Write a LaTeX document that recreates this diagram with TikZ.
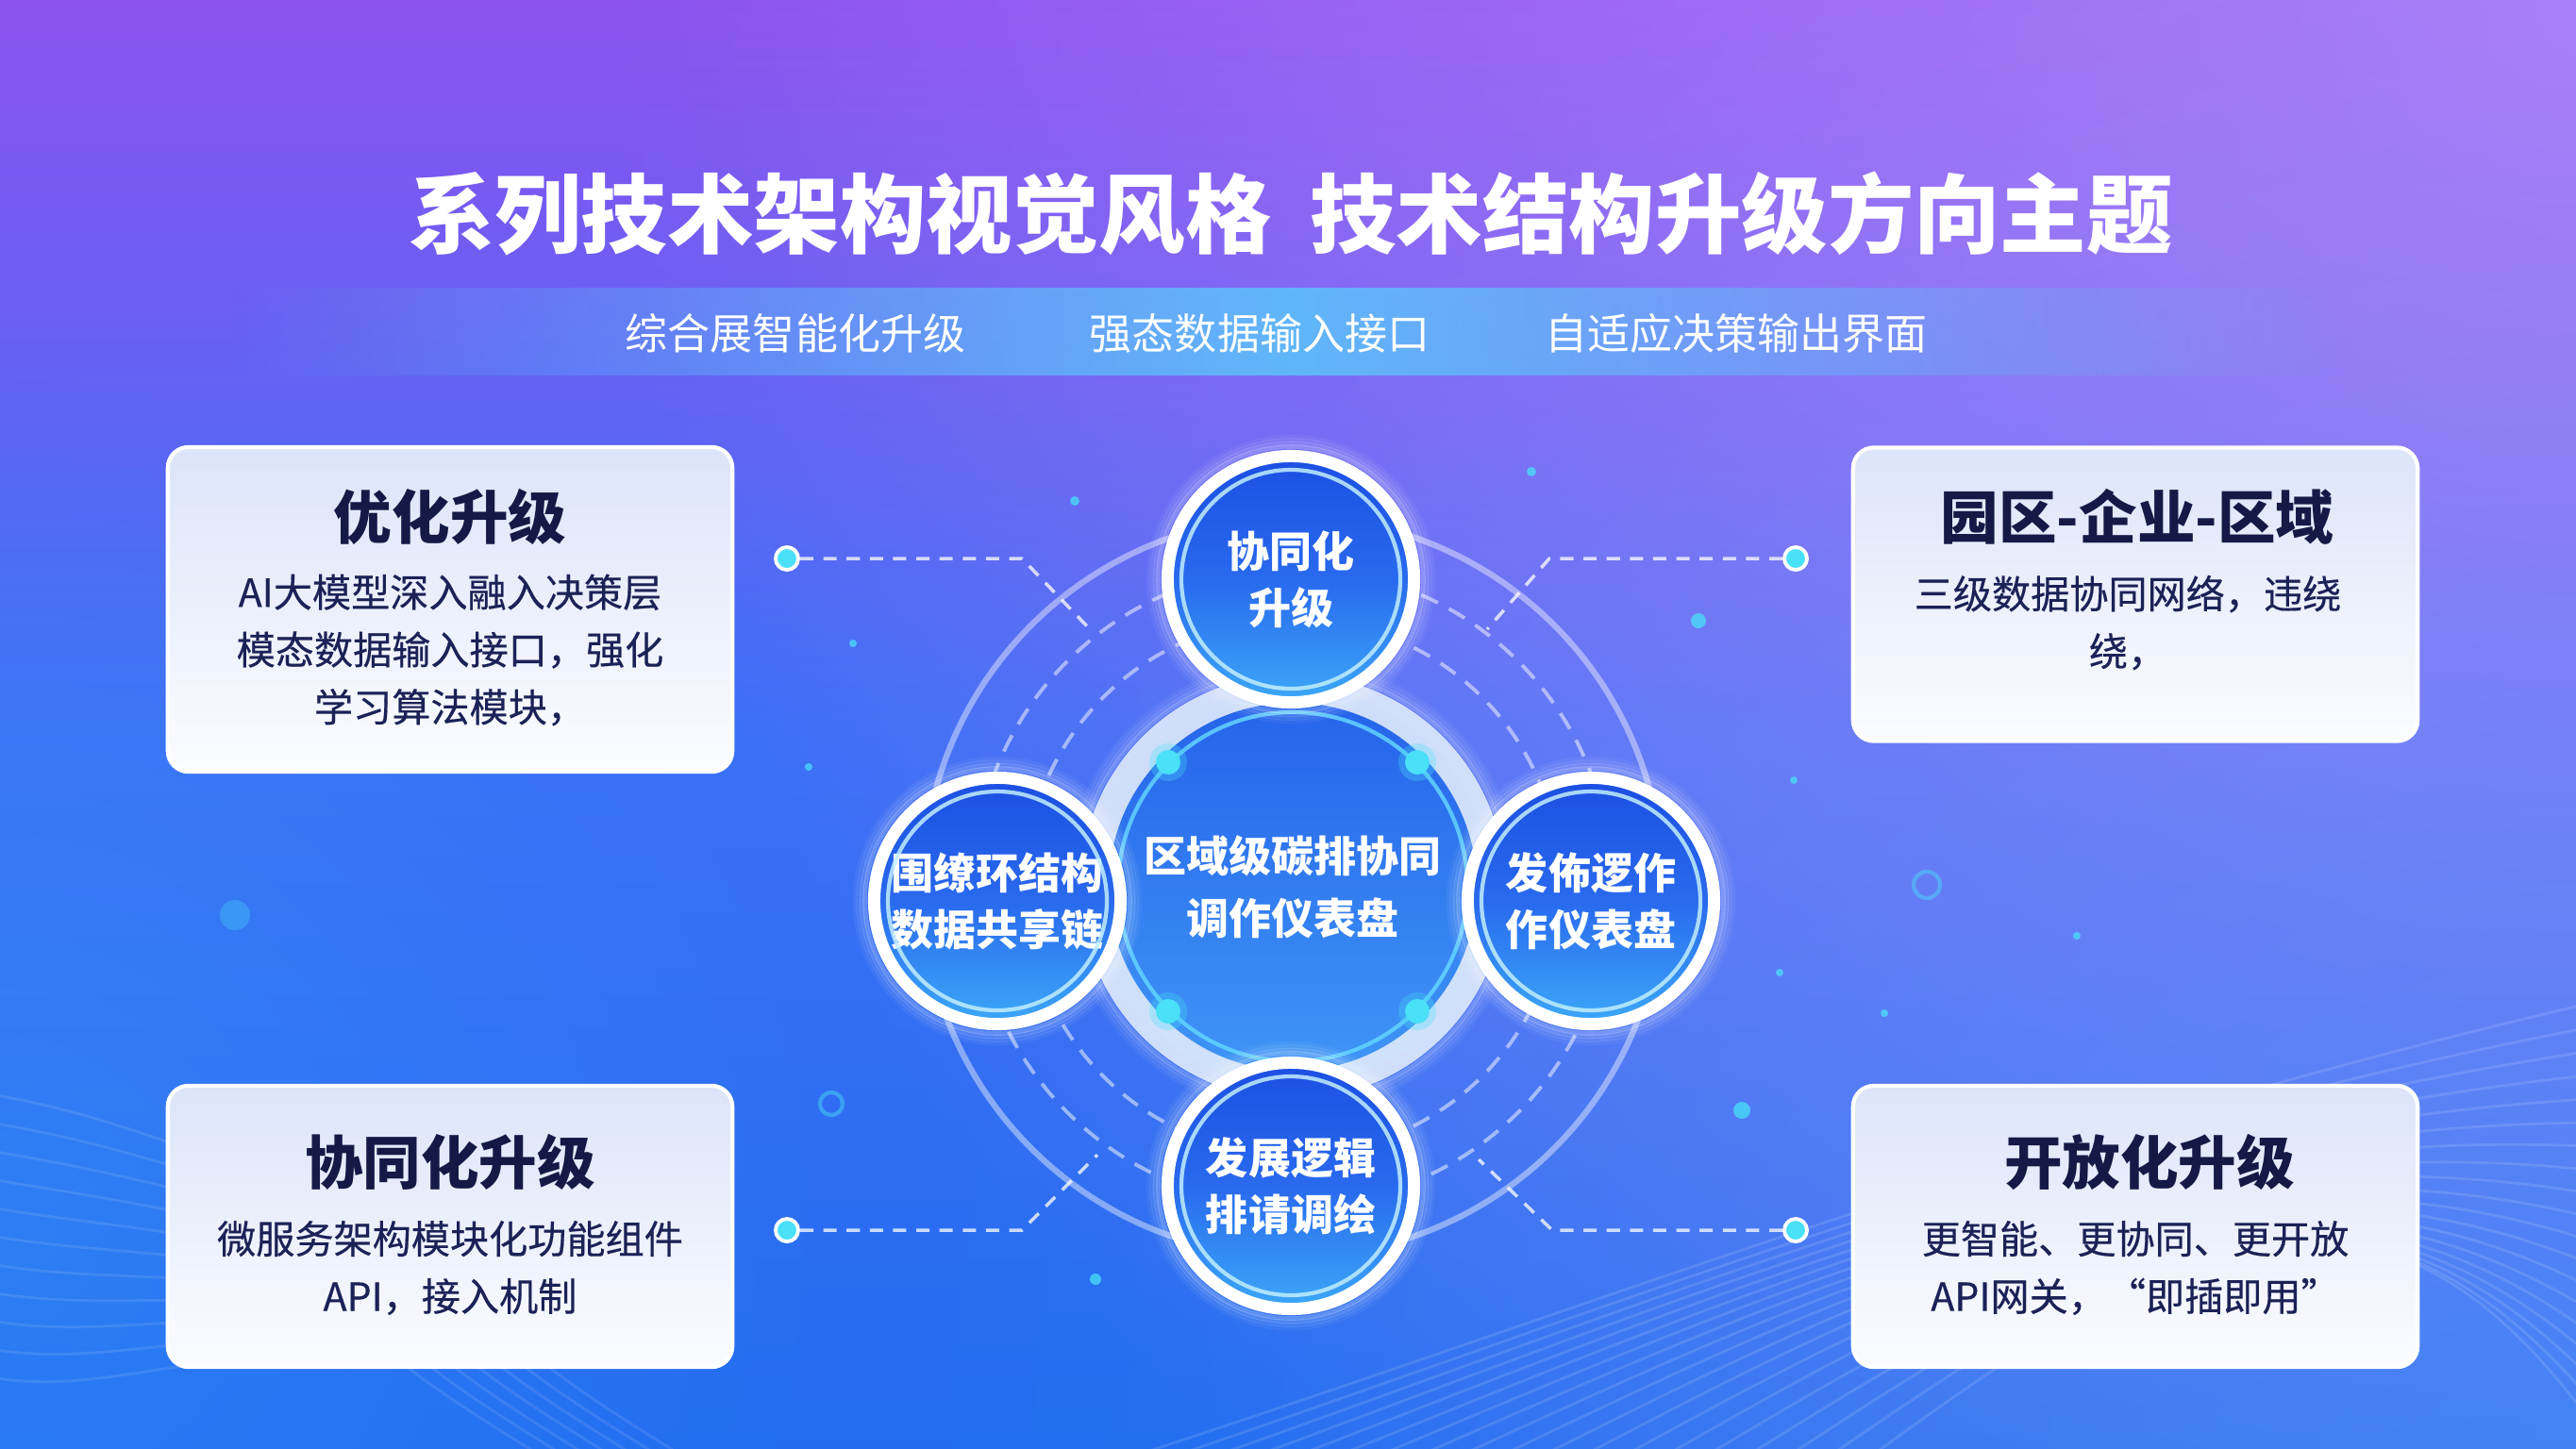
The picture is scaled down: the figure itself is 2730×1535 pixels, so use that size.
\documentclass[tikz,border=0pt]{standalone}
\usepackage{fontspec}
\setmainfont{Noto Sans CJK SC}
\usetikzlibrary{fadings}
\definecolor{bgTop}{HTML}{8C52F0}
\definecolor{bgMid}{HTML}{3C70F5}
\definecolor{bgBot}{HTML}{236CF0}
\definecolor{tintR}{HTML}{B07EF8}
\definecolor{tintBR}{HTML}{38A6FA}
\definecolor{bandC}{HTML}{5CC4FB}
\definecolor{boxTop}{HTML}{DCE4F9}
\definecolor{boxBot}{HTML}{FBFCFF}
\definecolor{navyT}{HTML}{141A45}
\definecolor{navyB}{HTML}{1A2256}
\definecolor{satTop}{HTML}{1B4FE2}
\definecolor{satMid}{HTML}{296AEE}
\definecolor{satBot}{HTML}{3CA8F8}
\definecolor{hubTop}{HTML}{2562EA}
\definecolor{hubBot}{HTML}{3F97F6}
\definecolor{ringW}{HTML}{DCE8FC}
\definecolor{cyanL}{HTML}{49E0F8}
\definecolor{cyanLine}{HTML}{63D4FF}
\tikzfading[name=radfade, inner color=transparent!0, outer color=transparent!100]
\tikzfading[name=sidefade, left color=transparent!100, right color=transparent!100, middle color=transparent!0]
\tikzset{
  bx/.style={rectangle, rounded corners=0.22cm, top color=boxTop, bottom color=boxBot, draw=white, line width=1.2pt, minimum width=5.98cm, inner sep=0pt},
  btitle/.style={text=navyT, font=\fontsize{17.5}{21}\selectfont\bfseries, inner sep=0pt},
  bbody/.style={text=navyB, align=center, font=\fontsize{11.7}{17.3}\selectfont\addfontfeature{FakeBold=0.4}, inner sep=0pt},
  sat/.style={circle, minimum size=2.61cm, draw=white, line width=0.13cm, top color=satTop, bottom color=satBot, middle color=satMid, text=white, align=center, font=\fontsize{12.8}{17}\selectfont\bfseries, inner sep=0pt},
  hubst/.style={circle, minimum size=4.2cm, draw=ringW, draw opacity=0.92, line width=0.3cm, top color=hubTop, bottom color=hubBot, text=white, align=center, font=\fontsize{12.8}{18.8}\selectfont\bfseries, inner sep=0pt},
  cdot/.style={circle, fill=cyanL, draw=white, line width=1.1pt, minimum size=0.24cm, inner sep=0pt},
  hdot/.style={circle, fill=cyanL, minimum size=0.26cm, inner sep=0pt},
  conn/.style={white, opacity=0.75, line width=1pt, dash pattern=on 4pt off 3pt},
  subt/.style={text=white, font=\fontsize{12.8}{15}\selectfont, inner sep=0pt},
  sparkle/.style={fill=cyanL, opacity=0.75},
}
\begin{document}
\begin{tikzpicture}[x=0.01cm,y=-0.01cm]
\useasboundingbox (0,0) rectangle (2730,1535);
\clip (0,0) rectangle (2730,1535);
% background
\shade[top color=bgTop, bottom color=bgBot, middle color=bgMid] (0,0) rectangle (2730,1535);
\fill[tintR, path fading=radfade] (2730,0) circle[radius=2100];
\fill[tintBR, path fading=radfade, opacity=0.35] (2730,1535) circle[radius=1800];
\fill[tintBR, path fading=radfade, opacity=0.3] (0,1300) circle[radius=900];
% waves bottom right
\foreach \i in {0,...,18}{
  \draw[white, opacity=0.12, line width=0.8pt] (1150+45*\i,1560) .. controls (1650+35*\i,1400-4*\i) and (2150+20*\i,1200-2*\i) .. (2760,1060+26*\i);
}
% waves bottom left
\foreach \i in {0,...,10}{
  \draw[white, opacity=0.10, line width=0.8pt] (-10,1160+30*\i) .. controls (80,1175+30*\i) and (150,1200+25*\i) .. (260,1240+20*\i);
}
\foreach \i in {0,...,6}{
  \draw[white, opacity=0.10, line width=0.8pt] (420+25*\i,1440) .. controls (470+25*\i,1480) and (520+25*\i,1510) .. (600+25*\i,1560);
}
% subtitle band
\fill[bandC, path fading=sidefade, opacity=0.85] (250,305) rectangle (2490,398);
% title & subtitles
\node[text=white, font=\fontsize{26}{30}\selectfont\bfseries, inner sep=0pt] (title) at (1368,226) {系列技术架构视觉风格\hspace{0.45em}技术结构升级方向主题};
\node[subt] (s1) at (843,353) {综合展智能化升级};
\node[subt] (s2) at (1335,353) {强态数据输入接口};
\node[subt] (s3) at (1840,353) {自适应决策输出界面};
% central coordinates
\coordinate (c) at (1370,940);
\coordinate (pT) at (1368,614);
\coordinate (pL) at (1057,955);
\coordinate (pR) at (1686,955);
\coordinate (pB) at (1368,1257);
% rings
\draw[white, opacity=0.42, line width=1.8pt] (c) circle[radius=392];
\draw[white, opacity=0.5, line width=1.1pt, dash pattern=on 5.5pt off 3.8pt] (c) circle[radius=338];
\draw[white, opacity=0.5, line width=1.1pt, dash pattern=on 5.5pt off 3.8pt] (c) circle[radius=284];
% connector dots and bends
\node[cdot] (dTL) at (834,592) {};
\node[cdot] (dTR) at (1903,592) {};
\node[cdot] (dBL) at (834,1304) {};
\node[cdot] (dBR) at (1903,1304) {};
\coordinate (bTL) at (1083,592);
\coordinate (eTL) at (1158,670);
\coordinate (bTR) at (1642,592);
\coordinate (eTR) at (1576,667);
\coordinate (bBL) at (1083,1304);
\coordinate (eBL) at (1163,1224);
\coordinate (bBR) at (1645,1304);
\coordinate (eBR) at (1567,1229);
\draw[conn] (dTL.east) -- (bTL) -- (eTL);
\draw[conn] (dTR.west) -- (bTR) -- (eTR);
\draw[conn] (dBL.east) -- (bBL) -- (eBL);
\draw[conn] (dBR.west) -- (bBR) -- (eBR);
% hub glow
\foreach \k/\o in {1/0.2, 2/0.13, 3/0.08, 4/0.05}{
  \draw[white, opacity=\o, line width=1.3pt] (c) circle[radius=225+3.5*\k];
}
\node[hubst] (hub) at (c) {区域级碳排协同\\调作仪表盘};
\draw[cyanLine, line width=1.2pt, opacity=0.85] (hub.center) circle[radius=185];
\foreach \n/\x/\y in {h1/1238/808, h2/1502/808, h3/1238/1072, h4/1502/1072}{
  \fill[cyanL, opacity=0.3] (\x,\y) circle[radius=20];
  \node[hdot] (\n) at (\x,\y) {};
}
% satellite glows
\foreach \p in {pT,pL,pR,pB}{
  \foreach \k/\o in {1/0.22, 2/0.14, 3/0.09, 4/0.05}{
    \draw[white, opacity=\o, line width=1.3pt] (\p) circle[radius=137+3.5*\k];
  }
}
\node[sat] (sT) at (pT) {协同化\\升级};
\node[sat] (sL) at (pL) {围缭环结构\\数据共享链};
\node[sat] (sR) at (pR) {发佈逻作\\作仪表盘};
\node[sat] (sB) at (pB) {发展逻辑\\排请调绘};
\foreach \s in {sT,sL,sR,sB}{
  \draw[white!60!cyanLine, line width=1.2pt, opacity=0.85] (\s.center) circle[radius=116];
}
% boxes
\node[bx, minimum height=3.44cm] (boxTL) at (477,646) {};
\node[bx, minimum height=3.11cm] (boxTR) at (2263,630) {};
\node[bx, minimum height=2.98cm] (boxBL) at (477,1300) {};
\node[bx, minimum height=2.98cm] (boxBR) at (2263,1300) {};
\node[btitle] (t1) at (477,548) {优化升级};
\node[bbody] (b1) at (477,689) {AI大模型深入融入决策层\\模态数据输入接口，强化\\学习算法模块，};
\node[btitle] (t2) at (2265,548) {园区-企业-区域};
\node[bbody] (b2) at (2255,660) {三级数据协同网络，违绕\\绕，};
\node[btitle] (t3) at (477,1232) {协同化升级};
\node[bbody] (b3) at (477,1344) {微服务架构模块化功能组件\\API，接入机制};
\node[btitle] (t4) at (2278,1232) {开放化升级};
\node[bbody] (b4) at (2263,1344) {更智能、更协同、更开放\\API网关，“即插即用”};
% sparkles
\foreach \x/\y/\r in {1139/531/5, 1623/500/5, 1800/658/8, 904/682/4, 857/813/4, 2201/992/4, 1886/1031/4, 1846/1177/9, 1161/1356/6, 1997/1074/4, 1901/827/4}{
  \fill[sparkle] (\x,\y) circle[radius=\r];
}
\fill[cyanL, opacity=0.3] (249,970) circle[radius=16];
\draw[cyanL, opacity=0.45, line width=1.2pt] (2042,938) circle[radius=14];
\draw[cyanL, opacity=0.45, line width=1.2pt] (881,1170) circle[radius=12];
\end{tikzpicture}
\end{document}
